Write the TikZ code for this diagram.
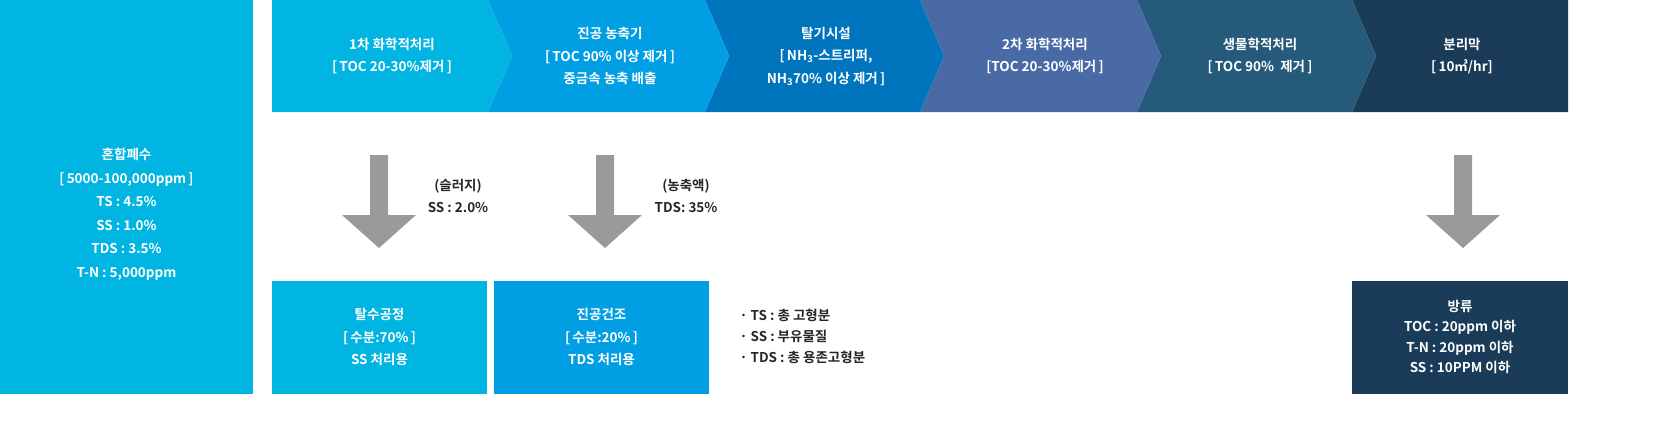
\documentclass[tikz,border=0pt]{standalone}
\usepackage{fontspec}
\setmainfont{Noto Sans CJK KR}[BoldFont={* Bold}]
\usetikzlibrary{positioning}
\definecolor{cyanA}{HTML}{00B5E2}
\definecolor{blueB}{HTML}{009FE3}
\definecolor{blueC}{HTML}{0075BE}
\definecolor{slateD}{HTML}{4A6AA6}
\definecolor{tealE}{HTML}{265A7B}
\definecolor{navyF}{HTML}{1B3C58}
\definecolor{grayarrow}{HTML}{9A9A9A}
\begin{document}
\begin{tikzpicture}[x=1pt,y=-1pt,
  label/.style = {text=white, font=\bfseries\fontsize{13.5}{22.5}\selectfont, align=center},
  note/.style = {text=black!85, font=\bfseries\fontsize{13.5}{22}\selectfont, align=left},
  box/.style = {fill=#1, draw=none},
  downarrow/.style = {fill=grayarrow, draw=none}
]
\useasboundingbox (0,0) rectangle (1671,428);

% ---- left input ----
\fill[cyanA] (0,0) rectangle (253,394);
\node[label, font=\bfseries\fontsize{13.5}{23.5}\selectfont] (feed) at (126.5,214) {혼합폐수\\{[}\,5000-100,000ppm\,{]}\\TS : 4.5\%\\SS : 1.0\%\\TDS : 3.5\%\\T-N : 5,000ppm};

% ---- process chevrons ----
\fill[navyF] (1352,0) -- (1568,0) -- (1568,112) -- (1352,112) -- (1376,56) -- cycle;
\fill[tealE] (1137,0) -- (1352,0) -- (1376,56) -- (1352,112) -- (1137,112) -- (1161,56) -- cycle;
\fill[slateD] (920,0) -- (1137,0) -- (1161,56) -- (1137,112) -- (920,112) -- (944,56) -- cycle;
\fill[blueC] (705,0) -- (920,0) -- (944,56) -- (920,112) -- (705,112) -- (729,56) -- cycle;
\fill[blueB] (488,0) -- (705,0) -- (729,56) -- (705,112) -- (488,112) -- (512,56) -- cycle;
\fill[cyanA] (272,0) -- (488,0) -- (512,56) -- (488,112) -- (272,112) -- cycle;

\node[label] (step1) at (392,56) {1차 화학적처리\\{[}\,TOC 20-30\%제거\,{]}};
\node[label] (step2) at (610,56) {진공 농축기\\{[}\,TOC 90\% 이상 제거\,{]}\\중금속 농축 배출};
\node[label] (step3) at (826,56) {탈기시설\\{[}\,NH\textsubscript{3}-스트리퍼,\\NH\textsubscript{3}70\% 이상 제거\,{]}};
\node[label] (step4) at (1045,56) {2차 화학적처리\\{[}TOC 20-30\%제거\,{]}};
\node[label] (step5) at (1260,56) {생물학적처리\\{[}\,TOC 90\%~ 제거\,{]}};
\node[label] (step6) at (1462,56) {분리막\\{[}\,10㎥/hr{]}};

% ---- down arrows ----
\foreach \cx in {379,605,1463}
  \fill[downarrow] (\cx-9,155) -- (\cx+9,155) -- (\cx+9,215) -- (\cx+37,215)
    -- (\cx,248) -- (\cx-37,215) -- (\cx-9,215) -- cycle;
\node[note, align=center] (sludge) at (458,196) {(슬러지)\\SS : 2.0\%};
\node[note, align=center] (conc) at (686,196) {(농축액)\\TDS: 35\%};

% ---- bottom outputs ----
\fill[cyanA] (272,281) rectangle (487,394);
\fill[blueB] (494,281) rectangle (709,394);
\fill[navyF] (1352,281) rectangle (1568,394);
\node[label] (dewater) at (379.5,337) {탈수공정\\{[}\,수분:70\%\,{]}\\SS 처리용};
\node[label] (vacdry) at (601.5,337) {진공건조\\{[}\,수분:20\%\,{]}\\TDS 처리용};
\node[label, font=\bfseries\fontsize{13.5}{20.5}\selectfont] (discharge) at (1460,337) {방류\\TOC : 20ppm 이하\\T-N : 20ppm 이하\\SS : 10PPM 이하};

\node[note, anchor=west, font=\bfseries\fontsize{13.5}{21}\selectfont] (legend) at (736,336) {·~TS : 총 고형분\\·~SS : 부유물질\\·~TDS : 총 용존고형분};
\end{tikzpicture}
\end{document}
